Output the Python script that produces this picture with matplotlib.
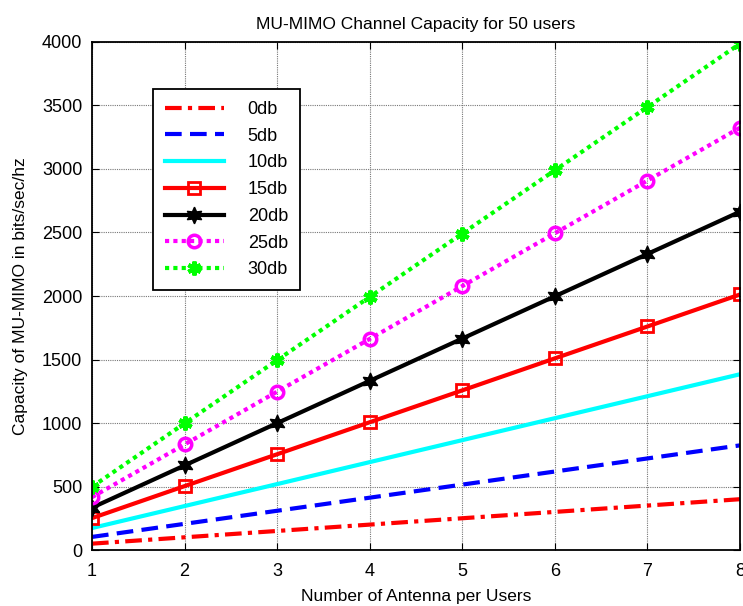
import matplotlib
matplotlib.use("Agg")
import matplotlib.pyplot as plt

plt.rcParams['font.family'] = ['Liberation Sans', 'DejaVu Sans']

antennas = [1, 2, 3, 4, 5, 6, 7, 8]
labels = ['0db', '5db', '10db', '15db', '20db', '25db', '30db']
cap_0db = [50, 100, 150, 200, 250, 300, 350, 400]
cap_5db = [103, 206, 309, 412, 515, 618, 721, 824]
cap_10db = [173, 346, 519, 692, 865, 1038, 1211, 1384]
cap_15db = [251, 503, 754, 1006, 1257, 1509, 1760, 2012]
cap_20db = [333, 666, 999, 1332, 1665, 1998, 2331, 2664]
cap_25db = [416, 831, 1247, 1662, 2078, 2494, 2909, 3325]
cap_30db = [498, 997, 1495, 1993, 2492, 2990, 3488, 3987]

fig = plt.figure(figsize=(7.43, 6.06), dpi=100)
ax = fig.add_axes([0.1238, 0.0924, 0.8722, 0.8383])

lw = 3
ax.plot(antennas, cap_0db, color='red', ls=(0, (4, 1.5, 1, 1.5)), lw=lw, label=labels[0])
ax.plot(antennas, cap_5db, color='blue', ls=(0, (4, 2)), lw=lw, label=labels[1])
ax.plot(antennas, cap_10db, color='cyan', ls='-', lw=lw, label=labels[2])
ax.plot(antennas, cap_15db, color='red', ls='-', lw=lw, marker='s', ms=9,
        mfc='none', mec='red', mew=2, label=labels[3])
ax.plot(antennas, cap_20db, color='black', ls='-', lw=lw, marker=(6, 1, 0), ms=12,
        mfc='black', mec='black', label=labels[4])
ax.plot(antennas, cap_25db, color='magenta', ls=(0, (1, 1)), lw=lw, marker='o', ms=9,
        mfc='none', mec='magenta', mew=2.5, label=labels[5])
ax.plot(antennas, cap_30db, color='#00ff00', ls=(0, (1, 1)), lw=lw, marker=(6, 2, 0), ms=10,
        mec='#00ff00', mew=3, label=labels[6])

ax.set_xlim(1, 8)
ax.set_ylim(0, 4000)
ax.set_xticks(antennas)
ax.set_yticks(range(0, 4001, 500))
ax.tick_params(direction='in', labelsize=13, length=5, top=True, right=True)
ax.tick_params(axis='x', pad=9)
ax.tick_params(axis='y', pad=7)
ax.grid(True, color='#777777', ls=(0, (1, 1)), lw=0.8)
for s in ax.spines.values():
    s.set_linewidth(1.3)

ax.set_title('MU-MIMO Channel Capacity for 50 users', fontsize=12.5, pad=9)
ax.set_xlabel('Number of Antenna per Users', fontsize=12.5, labelpad=7)
ax.set_ylabel('Capacity of MU-MIMO in bits/sec/hz', fontsize=12.5, labelpad=10)

leg = ax.legend(loc='upper left', bbox_to_anchor=(0.094, 0.907), borderaxespad=0,
                fontsize=13, fancybox=False, framealpha=1, edgecolor='black',
                handlelength=3.3, labelspacing=0.54, borderpad=0.65, handletextpad=1.3)
leg.get_frame().set_linewidth(1.3)

fig.savefig('out.png', dpi=100)
